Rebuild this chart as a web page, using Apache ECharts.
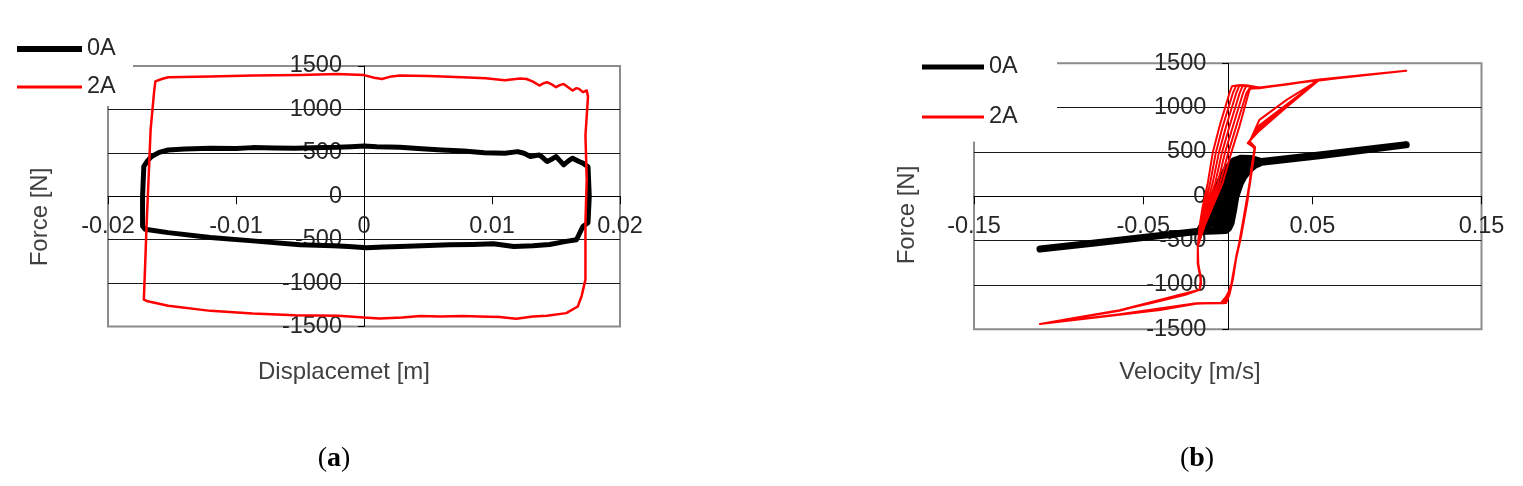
<!DOCTYPE html>
<html><head><meta charset="utf-8">
<script src="https://cdn.jsdelivr.net/npm/echarts@6.0.0/dist/echarts.min.js"></script>
<style>html,body{margin:0;padding:0;background:#fff;}#c{width:1523px;height:486px;}</style>
</head><body><div id="c"></div>
<script>
// ---- tick labels ----
const forceTicks = [-1500, -1000, -500, 0, 500, 1000, 1500];
const dispTicks = [-0.02, -0.01, 0, 0.01, 0.02];
const velTicks = [-0.15, -0.05, 0.05, 0.15];
const seriesNames = ['0A', '2A'];
const axisTitles = ['Force [N]', 'Displacemet [m]', 'Velocity [m/s]'];
const captions = ['a', 'b'];

// ---- (a) force vs displacement, 0A ----
const a0A_disp = [-0.0172,-0.0169,-0.0166,-0.0160,-0.0153,-0.0140,-0.0120,-0.0100,-0.0087,-0.0070,-0.0054,-0.0040,-0.0021,-0.0010,0.0000,0.0010,0.0028,0.0045,0.0061,0.0078,0.0094,0.0110,0.0120,0.0125,0.0130,0.0134,0.0137,0.0140,0.0143,0.0147,0.0150,0.0153,0.0156,0.0160,0.0163,0.0166,0.0168,0.0171,0.0175,0.0176,0.0175,0.0171,0.0166,0.0158,0.0145,0.0132,0.0117,0.0101,0.0085,0.0067,0.0045,0.0028,0.0015,0.0002,-0.0012,-0.0024,-0.0050,-0.0087,-0.0120,-0.0153,-0.0171,-0.0173,-0.0173,-0.0172];
const a0A_force = [343,410,457,505,533,545,552,550,560,555,552,558,563,570,578,570,563,548,533,520,502,495,514,495,457,470,476,440,400,430,457,410,362,410,438,415,400,381,340,0,-305,-348,-501,-520,-555,-570,-578,-547,-555,-559,-570,-578,-585,-594,-580,-570,-559,-514,-476,-419,-381,-343,0,343];

// ---- (a) force vs displacement, 2A ----
const a2A_disp = [-0.0163,-0.0158,-0.0153,-0.0120,-0.0087,-0.0050,-0.0021,0.0000,0.0008,0.0014,0.0020,0.0028,0.0050,0.0077,0.0095,0.0110,0.0122,0.0127,0.0132,0.0137,0.0140,0.0143,0.0147,0.0150,0.0153,0.0156,0.0160,0.0163,0.0166,0.0168,0.0171,0.0174,0.0175,0.0173,0.0174,0.0173,0.0173,0.0170,0.0167,0.0158,0.0143,0.0132,0.0119,0.0106,0.0090,0.0077,0.0060,0.0044,0.0030,0.0012,0.0000,-0.0020,-0.0054,-0.0087,-0.0120,-0.0153,-0.0169,-0.0172,-0.0171,-0.0170,-0.01667,-0.0164,-0.0163];
const a2A_force = [1322,1350,1370,1380,1390,1395,1408,1395,1365,1350,1375,1390,1385,1370,1360,1335,1355,1350,1320,1275,1300,1313,1285,1256,1280,1294,1250,1218,1245,1237,1199,1218,1150,700,200,-300,-960,-1150,-1270,-1346,-1375,-1385,-1410,-1390,-1385,-1378,-1385,-1380,-1395,-1408,-1395,-1375,-1370,-1351,-1320,-1260,-1210,-1190,-800,-388,766,1200,1322];

// ---- (b) force vs velocity, 0A ----
const b0A_vel = [-0.111,-0.080,-0.050,-0.017,-0.0150,-0.0128,-0.0112,-0.0085,-0.0050,-0.0010,0.0035,0.0080,0.0140,0.0200,0.0540,0.1055,0.0540,0.0200,0.0160,0.0128,0.0095,0.0075,0.0048,0.0035,0.0020,0.0005,-0.0010,-0.0080,-0.0170,-0.0135,-0.0104,-0.0075,-0.0052,-0.0019,0.0025,0.0074,0.0120,0.0180,0.0151,0.0094,0.0044,0.0015,-0.0002,-0.0021,-0.0040,-0.0100,-0.0080,-0.0062,-0.0039,-0.0019,0.0013,0.0059,0.0113,0.0160,0.0200,0.0540,0.1055];
const b0A_force = [-595,-530,-465,-395,-330,-220,-150,0,150,300,400,430,425,392,466,581,458,384,350,300,220,150,0,-150,-300,-360,-385,-392,-397,-385,-300,-150,0,150,300,400,420,400,395,300,150,0,-150,-300,-375,-390,-385,-300,-150,0,150,300,400,410,390,462,581];

// ---- (b) force vs velocity, 2A (several cycles, one after another) ----
const b2A_vel = [0.1055,0.0800,0.0540,0.0350,0.0187,0.0120,0.0060,0.0025,0.0010,-0.0049,-0.0089,-0.0118,-0.0148,-0.0167,-0.0177,-0.0176,-0.0160,-0.0157,-0.0167,-0.0250,-0.0450,-0.0640,-0.0900,-0.1110,-0.0900,-0.0640,-0.0400,-0.0187,-0.0050,-0.0010,0.0010,0.0030,0.0050,0.0079,0.0118,0.0138,0.0158,0.0145,0.0118,0.0187,0.0350,0.0520,0.0800,0.1055,
 0.0540,0.0187,0.0120,0.0070,0.0050,-0.0010,-0.0053,-0.0089,-0.0128,-0.0157,-0.0177,-0.0178,-0.0162,-0.0160,-0.0167,-0.0640,-0.1110,-0.0640,-0.0187,-0.0030,0.0015,0.0040,0.0068,0.0098,0.0128,0.0146,0.0162,0.0130,0.0187,0.0350,0.0540,0.1055,
 0.0540,0.0187,0.0110,0.0090,0.0030,-0.0017,-0.0059,-0.0109,-0.0148,-0.0177,-0.0175,-0.0158,-0.0167,-0.0640,-0.1110,-0.0640,-0.0187,-0.0020,0.0020,0.0050,0.0080,0.0118,0.0140,0.0160,0.0120,0.0187,0.0540,0.1055,
 0.0540,0.0187,0.0140,0.0128,0.0069,0.0020,-0.0030,-0.0089,-0.0138,-0.0177,-0.0174,-0.0159,-0.0167,-0.0640,-0.1110,
 -0.0640,-0.0187,-0.0040,0.0012,0.0035,0.0062,0.0090,0.0122,0.0142,0.0160,0.0125,0.0187,0.0540,0.1055,
 0.0540,0.0187,0.0100,0.0050,0.0030,-0.0030,-0.0071,-0.0104,-0.0138,-0.0162,-0.0177,-0.0176,-0.0160,-0.0167,-0.0640,-0.1110,
 -0.0640,-0.0187,-0.0030,0.0018,0.0045,0.0072,0.0105,0.0133,0.0152,0.0158,0.0122,0.0187,0.0540,0.1055,
 0.0540,0.0187,0.0130,0.0090,0.0070,0.0010,-0.0035,-0.0074,-0.0118,-0.0152,-0.0177,-0.0176,-0.0159,-0.0167,-0.0640,-0.1110,
 -0.0640,-0.0187,-0.0020,0.0025,0.0052,0.0085,0.0120,0.0141,0.0160,0.0120,0.0187,0.0540,0.1055,
 0.0540,0.0187,0.0135,0.0110,0.0050,0.0002,-0.0045,-0.0099,-0.0143,-0.0177,-0.0175,-0.0158,-0.0167,-0.0640,-0.1110];
const b2A_force = [1415,1368,1313,1262,1222,1240,1252,1240,1163,787,487,149,-115,-340,-566,-750,-900,-980,-1054,-1110,-1205,-1285,-1370,-1440,-1390,-1336,-1282,-1212,-1204,-1204,-1110,-941,-700,-453,-39,299,540,565,600,740,1010,1300,1368,1415,
 1318,1218,1248,1255,1163,787,487,149,-115,-340,-566,-760,-920,-1000,-1054,-1290,-1440,-1330,-1205,-1200,-1060,-800,-520,-200,100,330,555,620,862,1090,1313,1415,
 1310,1226,1252,1163,787,487,149,-115,-340,-566,-780,-950,-1054,-1288,-1440,-1334,-1208,-1206,-1000,-680,-440,-30,310,548,605,760,1313,1415,
 1315,1220,1215,1200,787,487,149,-115,-340,-566,-760,-930,-1054,-1286,-1440,
 -1332,-1206,-1202,-1080,-850,-580,-300,40,320,552,612,800,1313,1415,
 1316,1221,1250,1248,1163,787,487,149,-115,-340,-566,-770,-940,-1054,-1287,-1440,
 -1335,-1207,-1203,-1030,-740,-480,-120,200,450,555,603,780,1313,1415,
 1314,1223,1245,1255,1163,787,487,149,-115,-340,-566,-760,-935,-1054,-1287,-1440,
 -1333,-1206,-1204,-980,-660,-380,10,315,550,600,750,1313,1415,
 1315,1224,1238,1163,787,487,149,-115,-340,-566,-770,-945,-1054,-1287,-1440];

function zip(xs, ys) { return xs.map((x, i) => [x, ys[i]]); }

const FONT = '"Liberation Sans", Arial, sans-serif';
const LABEL = '#262626';
const fmt = (v) => String(parseFloat(Number(v).toFixed(6)));

// offsets move the axes onto the zero lines (labels follow them)
function xAxisOpt(gi, ticks, interval, offset) {
  return {
    type: 'value', gridIndex: gi, position: 'bottom', offset: offset,
    min: ticks[0], max: ticks[ticks.length - 1], interval: interval,
    axisLine: { show: true, onZero: false, lineStyle: { color: '#000', width: 1 } },
    axisTick: { show: true, length: 8, inside: false, lineStyle: { color: '#000', width: 1 } },
    axisLabel: { show: true, margin: 18, fontSize: 23.5, color: LABEL, fontFamily: FONT, showMinLabel: true, showMaxLabel: true, hideOverlap: false, formatter: fmt },
    splitLine: { show: false }
  };
}
function yAxisOpt(gi, offset) {
  return {
    type: 'value', gridIndex: gi, position: 'left', offset: offset,
    min: forceTicks[0], max: forceTicks[forceTicks.length - 1], interval: 500,
    axisLine: { show: true, onZero: false, lineStyle: { color: '#000', width: 1 } },
    axisTick: { show: true, length: 6, inside: false, lineStyle: { color: '#000', width: 1 } },
    axisLabel: { show: true, margin: 22, fontSize: 23.5, color: LABEL, fontFamily: FONT, showMinLabel: true, showMaxLabel: true, hideOverlap: false, formatter: fmt },
    splitLine: { show: true, showMinLine: false, showMaxLine: false, lineStyle: { color: '#1a1a1a', width: 1 } }
  };
}
function legendOpt(name, left, top, w, h, color) {
  return {
    data: [name], left: left, top: top, orient: 'horizontal', icon: 'rect',
    itemWidth: w, itemHeight: h, itemGap: 0, padding: 0, selectedMode: false,
    itemStyle: { color: color, borderWidth: 0 },
    textStyle: { fontSize: 23.5, color: LABEL, fontFamily: FONT, lineHeight: 24 }
  };
}
function lineSeries(name, gi, data, color, width) {
  return {
    type: 'line', name: name, xAxisIndex: gi, yAxisIndex: gi, data: data,
    showSymbol: false, symbol: 'none', animation: false, clip: true,
    lineStyle: { color: color, width: width, join: 'round', cap: 'round' },
    itemStyle: { color: color }
  };
}

const chart = echarts.init(document.getElementById('c'), null, { renderer: 'canvas' });
chart.setOption({
  animation: false,
  backgroundColor: '#fff',
  textStyle: { fontFamily: FONT },
  grid: [
    { left: 108, top: 66, width: 512, height: 260.5, show: true, borderColor: '#8c8c8c', borderWidth: 2, containLabel: false, outerBoundsMode: 'none' },
    { left: 974, top: 63.3, width: 507.5, height: 266, show: true, borderColor: '#8c8c8c', borderWidth: 2, containLabel: false, outerBoundsMode: 'none' }
  ],
  xAxis: [ xAxisOpt(0, dispTicks, 0.01, -130.25), xAxisOpt(1, velTicks, 0.1, -133) ],
  yAxis: [ yAxisOpt(0, -256), yAxisOpt(1, -254.3) ],
  legend: [
    legendOpt(seriesNames[0], 17, 37, 65, 6, '#000'),
    legendOpt(seriesNames[1], 17, 75, 65, 3, '#ff0000'),
    legendOpt(seriesNames[0], 922, 55, 62, 5, '#000'),
    legendOpt(seriesNames[1], 922, 105, 62, 3, '#ff0000')
  ],
  series: [
    lineSeries(seriesNames[0], 0, zip(a0A_disp, a0A_force), '#000', 5),
    lineSeries(seriesNames[1], 0, zip(a2A_disp, a2A_force), '#ff0000', 2.5),
    lineSeries(seriesNames[0], 1, zip(b0A_vel, b0A_force), '#000', 7),
    lineSeries(seriesNames[1], 1, zip(b2A_vel, b2A_force), '#ff0000', 2)
  ],
  graphic: [
    { type: 'rect', z: 3, shape: { x: 0, y: 25, width: 133, height: 81 }, style: { fill: '#fff' } },
    { type: 'rect', z: 3, shape: { x: 880, y: 35, width: 177, height: 106.5 }, style: { fill: '#fff' } },
    { type: 'text', z: 5, x: 40, y: 217, rotation: Math.PI / 2, style: { text: axisTitles[0], fontSize: 24, fontFamily: FONT, fill: '#404040', align: 'center', verticalAlign: 'middle' } },
    { type: 'text', z: 5, x: 344, y: 372, style: { text: axisTitles[1], fontSize: 24, fontFamily: FONT, fill: '#404040', align: 'center', verticalAlign: 'middle' } },
    { type: 'text', z: 5, x: 907, y: 215, rotation: Math.PI / 2, style: { text: axisTitles[0], fontSize: 24, fontFamily: FONT, fill: '#404040', align: 'center', verticalAlign: 'middle' } },
    { type: 'text', z: 5, x: 1190, y: 372, style: { text: axisTitles[2], fontSize: 24, fontFamily: FONT, fill: '#404040', align: 'center', verticalAlign: 'middle' } },
    { type: 'text', z: 5, x: 334, y: 459, style: { text: '{p|(}{b|' + captions[0] + '}{p|)}', align: 'center', verticalAlign: 'middle',
        rich: { p: { fontSize: 28, fontFamily: '"Liberation Serif", serif', fill: '#000' }, b: { fontSize: 28, fontFamily: '"Liberation Serif", serif', fontWeight: 'bold', fill: '#000' } } } },
    { type: 'text', z: 5, x: 1197, y: 459, style: { text: '{p|(}{b|' + captions[1] + '}{p|)}', align: 'center', verticalAlign: 'middle',
        rich: { p: { fontSize: 28, fontFamily: '"Liberation Serif", serif', fill: '#000' }, b: { fontSize: 28, fontFamily: '"Liberation Serif", serif', fontWeight: 'bold', fill: '#000' } } } }
  ]
});
</script>
</body></html>
